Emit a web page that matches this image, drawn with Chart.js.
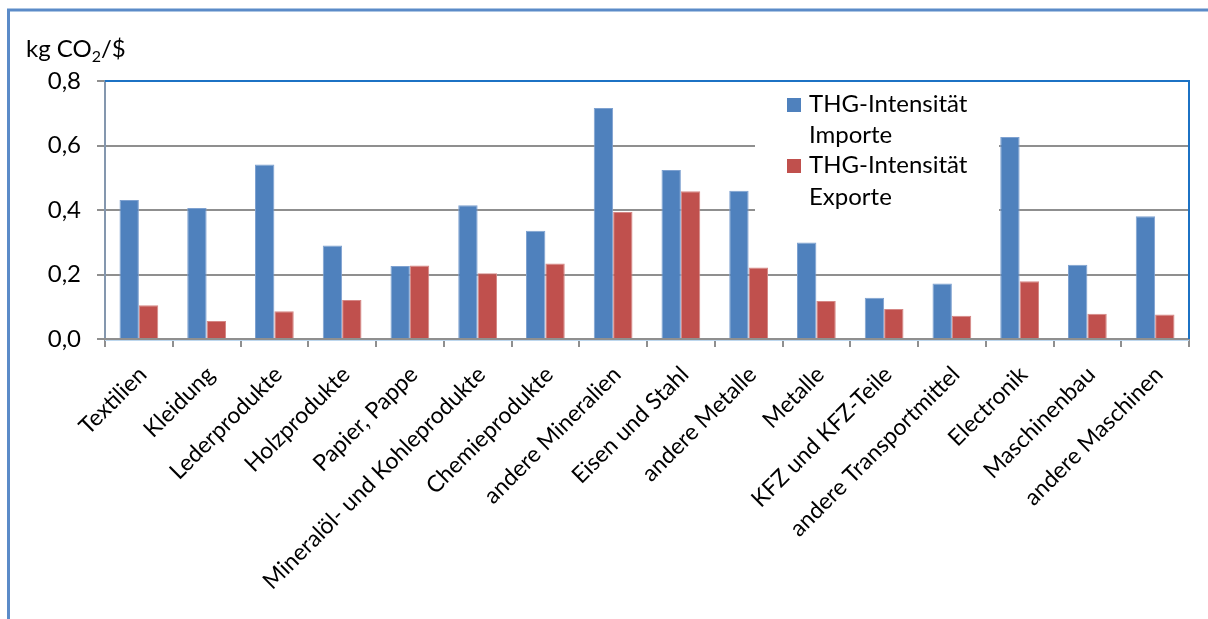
<!DOCTYPE html>
<html>
<head>
<meta charset="utf-8">
<script src="https://cdn.jsdelivr.net/npm/chart.js@4.4.1/dist/chart.umd.min.js"></script>
<style>
html,body{margin:0;padding:0;background:#fff;}
canvas{display:block;}
</style>
</head>
<body>
<canvas id="c" width="1208" height="619"></canvas>
<script>
const categories = ["Textilien","Kleidung","Lederprodukte","Holzprodukte","Papier, Pappe","Mineralöl- und Kohleprodukte","Chemieprodukte","andere Mineralien","Eisen und Stahl","andere Metalle","Metalle","KFZ und KFZ-Teile","andere Transportmittel","Electronik","Maschinenbau","andere Maschinen"];
const importValues = [0.431,0.406,0.541,0.290,0.226,0.415,0.336,0.716,0.524,0.460,0.299,0.128,0.172,0.626,0.230,0.381];
const exportValues = [0.105,0.056,0.086,0.121,0.228,0.204,0.234,0.394,0.458,0.222,0.118,0.093,0.072,0.179,0.078,0.076];
const seriesNames = ["THG-Intensität Importe","THG-Intensität Exporte"];
const yTicks = [0,0.2,0.4,0.6,0.8];
const axisTitleParts = ["kg CO","2","/$"];

const FONT = "Lato";
const BLUE = "#4F81BD", RED = "#C0504D";

const framePlugin = {
  id: "frame",
  beforeDraw(chart){
    const ctx = chart.ctx;
    ctx.save();
    ctx.fillStyle = "#fff";
    ctx.fillRect(0,0,chart.width,chart.height);
    ctx.strokeStyle = "#5B8BC8";
    ctx.lineWidth = 3;
    ctx.beginPath();
    ctx.moveTo(8.5, chart.height);
    ctx.lineTo(8.5, 10);
    ctx.lineTo(chart.width, 10);
    ctx.stroke();
    // axis title
    ctx.fillStyle = "#000";
    ctx.textBaseline = "alphabetic";
    ctx.font = "24px " + FONT;
    let x = 26, y = 57;
    ctx.fillText(axisTitleParts[0], x, y);
    x += ctx.measureText(axisTitleParts[0]).width;
    ctx.font = "16px " + FONT;
    ctx.fillText(axisTitleParts[1], x, y + 5);
    x += ctx.measureText(axisTitleParts[1]).width;
    ctx.font = "24px " + FONT;
    ctx.fillText(axisTitleParts[2], x, y);
    ctx.restore();
  },
  beforeDatasetsDraw(chart){
    const ctx = chart.ctx;
    ctx.save();
    ctx.fillStyle = "#fff";
    ctx.fillRect(755, 83, 244, 145);
    ctx.restore();
  },
  afterDatasetsDraw(chart){
    const ctx = chart.ctx, a = chart.chartArea;
    ctx.save();
    ctx.strokeStyle = "#1C72C4";
    ctx.lineWidth = 2;
    ctx.beginPath();
    ctx.moveTo(a.left, a.top);
    ctx.lineTo(a.right, a.top);
    ctx.lineTo(a.right, a.bottom);
    ctx.stroke();
    ctx.strokeStyle = "#BDD7EE";
    ctx.lineWidth = 1;
    ctx.beginPath();
    ctx.moveTo(a.left, a.bottom + 1.5);
    ctx.lineTo(a.right, a.bottom + 1.5);
    ctx.stroke();
    // legend
    ctx.font = "24px " + FONT;
    ctx.textBaseline = "alphabetic";
    const bases = [[112,143],[173,205]];
    chart.data.datasets.forEach((ds, i) => {
      const lbl = ds.label;
      const k = lbl.lastIndexOf(" ");
      const lines = [lbl.slice(0,k), lbl.slice(k+1)];
      ctx.fillStyle = ds.backgroundColor;
      ctx.fillRect(787, bases[i][0] - 14, 14, 14);
      ctx.fillStyle = "#000";
      ctx.fillText(lines[0], 809, bases[i][0]);
      ctx.fillText(lines[1], 809, bases[i][1]);
    });
    ctx.restore();
  }
};

new Chart(document.getElementById("c"), {
  type: "bar",
  data: {
    labels: categories,
    datasets: [
      {label: seriesNames[0], data: importValues, backgroundColor: BLUE, borderColor: "#7EA1D0", borderWidth: 1, categoryPercentage: 0.572, barPercentage: 1},
      {label: seriesNames[1], data: exportValues, backgroundColor: RED, borderColor: "#D58785", borderWidth: 1, categoryPercentage: 0.572, barPercentage: 1}
    ]
  },
  options: {
    responsive: false,
    devicePixelRatio: 1,
    animation: false,
    layout: {padding: {top: 81, right: 19, left: 0, bottom: 0}},
    plugins: {legend: {display: false}, tooltip: {enabled: false}, title: {display: false}},
    scales: {
      y: {
        min: 0, max: 0.8,
        afterBuildTicks(scale){ scale.ticks = yTicks.map(v => ({value: v})); },
        afterFit(scale){ scale.width = 105; },
        ticks: {
          callback: v => v.toFixed(1).replace(".", ","),
          font: {family: FONT, size: 24},
          color: "#000",
          padding: 16
        },
        grid: {color: "#8F8F8F", lineWidth: 2, tickLength: 8, drawTicks: true},
        border: {color: "#8497AE", width: 2}
      },
      x: {
        afterFit(scale){ scale.height = 280; },
        ticks: {
          maxRotation: 45, minRotation: 45, autoSkip: false,
          font: {family: FONT, size: 23},
          color: "#000",
          padding: 14,
          labelOffset: 4
        },
        grid: {offset: true, drawOnChartArea: false, drawTicks: true, tickLength: 8, color: "#8F8F8F", lineWidth: 2},
        border: {color: "#8F8F8F", width: 2}
      }
    }
  },
  plugins: [framePlugin]
});
</script>
</body>
</html>
